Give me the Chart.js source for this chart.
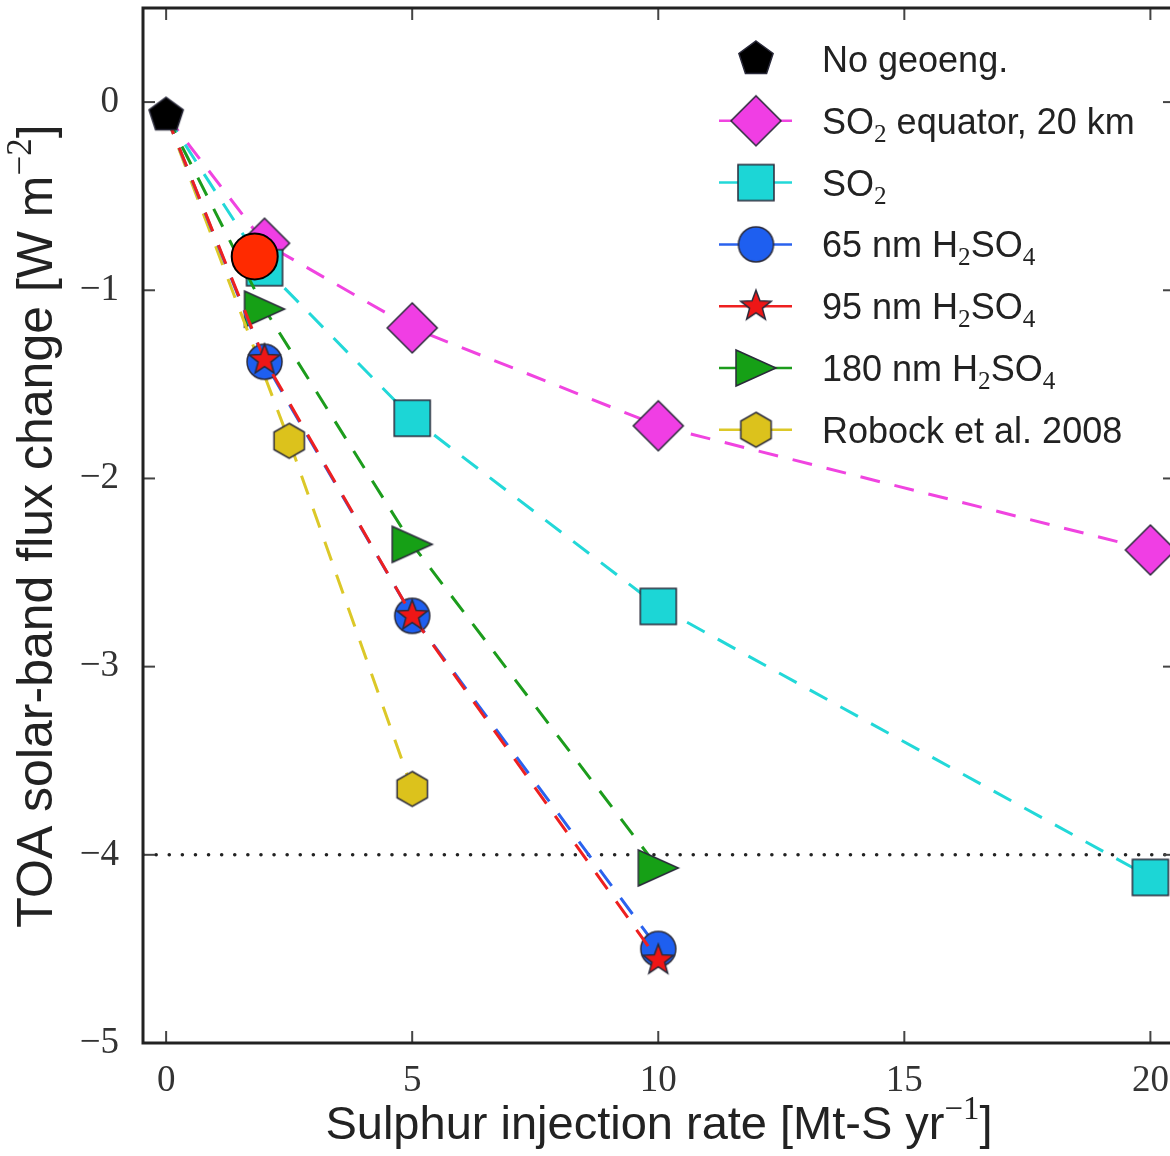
<!DOCTYPE html>
<html>
<head>
<meta charset="utf-8">
<script src="https://cdn.jsdelivr.net/npm/chart.js@4.4.1/dist/chart.umd.min.js"></script>
<style>
  html, body { margin: 0; padding: 0; background: #fff; overflow: hidden; }
  #wrap { width: 1175px; height: 1156px; }
</style>
</head>
<body>
<div id="wrap"><canvas id="chart"></canvas></div>
<script>
// --- Data ---
const xTicks = [0, 5, 10, 15, 20];
const yTicks = [0, -1, -2, -3, -4, -5];
const xMin = -0.47, xMax = 20.5;
const yMin = -5, yMax = 0.5;

const noGeoX = [0];
const noGeoY = [-0.07];
const so2EqX = [0, 2, 5, 10, 20];
const so2EqY = [-0.07, -0.75, -1.2, -1.72, -2.38];
const so2X = [0, 2, 5, 10, 20];
const so2Y = [-0.07, -0.88, -1.68, -2.68, -4.12];
const h65X = [0, 2, 5, 10];
const h65Y = [-0.07, -1.38, -2.73, -4.5];
const h95X = [0, 2, 5, 10];
const h95Y = [-0.07, -1.37, -2.73, -4.56];
const h180X = [0, 2, 5, 10];
const h180Y = [-0.07, -1.1, -2.35, -4.07];
const robockX = [0, 2.5, 5];
const robockY = [-0.07, -1.8, -3.65];
const targetLineY = -4;
const markX = [1.8];
const markY = [-0.82];

const xTitle = 'Sulphur injection rate [Mt-S yr⁻¹]';
const yTitle = 'TOA solar-band flux change [W m⁻²]';

const SANS = '"Liberation Sans", Arial, sans-serif';
const SERIF = '"Liberation Serif", "DejaVu Serif", serif';

// --- Marker images ---
function makeMarker(shape, fill, r) {
  const s = Math.ceil(r * 2 + 6);
  const c = document.createElement('canvas');
  c.width = c.height = s;
  const g = c.getContext('2d');
  g.translate(s / 2, s / 2);
  g.beginPath();
  const poly = (n, rad, rot) => {
    for (let i = 0; i < n; i++) {
      const a = rot + i * 2 * Math.PI / n;
      const px = rad * Math.cos(a), py = rad * Math.sin(a);
      if (i) g.lineTo(px, py); else g.moveTo(px, py);
    }
    g.closePath();
  };
  switch (shape) {
    case 'pentagon': poly(5, r, -Math.PI / 2); break;
    case 'diamond': poly(4, r, -Math.PI / 2); break;
    case 'square': g.rect(-r, -r, 2 * r, 2 * r); break;
    case 'circle': g.arc(0, 0, r, 0, 2 * Math.PI); break;
    case 'hexagon': poly(6, r, -Math.PI / 2); break;
    case 'triangle':
      g.moveTo(-r, -r * 0.9); g.lineTo(r, 0); g.lineTo(-r, r * 0.9); g.closePath();
      break;
    case 'star':
      for (let i = 0; i < 10; i++) {
        const a = -Math.PI / 2 + i * Math.PI / 5;
        const rad = i % 2 ? r * 0.42 : r;
        if (i) g.lineTo(rad * Math.cos(a), rad * Math.sin(a)); else g.moveTo(rad * Math.cos(a), rad * Math.sin(a));
      }
      g.closePath();
      break;
  }
  g.fillStyle = fill;
  g.fill();
  g.lineWidth = 1.5;
  g.strokeStyle = '#2a2a3a';
  g.stroke();
  return c;
}

const mkPent = makeMarker('pentagon', '#000000', 18);
const mkDiam = makeMarker('diamond', '#f03ee4', 25);
const mkSq = makeMarker('square', '#1cd6d6', 18);
const mkCirc = makeMarker('circle', '#1e5ff0', 17.5);
const mkStar = makeMarker('star', '#ee1616', 16);
const mkTri = makeMarker('triangle', '#16a016', 20);
const mkHex = makeMarker('hexagon', '#dcc21c', 17.5);

function pts(xs, ys) {
  return xs.map((x, i) => ({ x: x, y: ys[i] }));
}

function series(label, xs, ys, color, img, order) {
  return {
    label: label,
    data: pts(xs, ys),
    showLine: true,
    borderColor: color,
    backgroundColor: color,
    borderWidth: 3,
    borderDash: [20, 15],
    pointStyle: img,
    pointRadius: c => (c.dataIndex === 0 ? 0 : 15),
    order: order,
    legendImg: img
  };
}

const datasets = [
  {
    label: '',
    data: pts(markX, markY),
    showLine: false,
    pointStyle: 'circle',
    pointRadius: 23,
    backgroundColor: '#ff2a00',
    borderColor: '#000',
    borderWidth: 2,
    order: 0
  },
  {
    label: 'No geoeng.',
    data: pts(noGeoX, noGeoY),
    showLine: false,
    pointStyle: mkPent,
    pointRadius: 15,
    order: 1,
    legendImg: mkPent
  },
  series('SO₂ equator, 20 km', so2EqX, so2EqY, '#f044e0', mkDiam, 7),
  series('SO₂', so2X, so2Y, '#22d8d8', mkSq, 6),
  series('65 nm H₂SO₄', h65X, h65Y, '#2a62ee', mkCirc, 3),
  series('95 nm H₂SO₄', h95X, h95Y, '#ee2020', mkStar, 2),
  series('180 nm H₂SO₄', h180X, h180Y, '#1c9c1c', mkTri, 5),
  series('Robock et al. 2008', robockX, robockY, '#dcc828', mkHex, 4),
  {
    label: '',
    data: [{ x: xMin, y: targetLineY }, { x: xMax, y: targetLineY }],
    showLine: true,
    borderColor: '#222',
    borderWidth: 3.5,
    borderDash: [0.1, 13],
    borderCapStyle: 'round',
    pointRadius: 0,
    order: 20
  }
];

// --- Rich text (sub/superscripts) ---
const SUBS = { '₀': '0', '₁': '1', '₂': '2', '₃': '3', '₄': '4' };
const SUPS = { '⁻': '−', '¹': '1', '²': '2' };

function richRuns(str) {
  const runs = [];
  for (const ch of str) {
    let kind = 'n', t = ch;
    if (SUBS[ch]) { kind = 'sub'; t = SUBS[ch]; }
    else if (SUPS[ch]) { kind = 'sup'; t = SUPS[ch]; }
    const last = runs[runs.length - 1];
    if (last && last.kind === kind) last.t += t;
    else runs.push({ kind: kind, t: t });
  }
  return runs;
}

function drawRich(g, str, x, y, size, align) {
  const runs = richRuns(str);
  let w = 0;
  runs.forEach(r => {
    r.font = r.kind === 'n' ? size + 'px ' + SANS : (size * 0.7) + 'px ' + SERIF;
    g.font = r.font;
    r.w = g.measureText(r.t).width;
    w += r.w;
  });
  let cx = align === 'center' ? x - w / 2 : x;
  g.textAlign = 'left';
  g.textBaseline = 'alphabetic';
  runs.forEach(r => {
    g.font = r.font;
    const dy = r.kind === 'sub' ? size * 0.22 : r.kind === 'sup' ? -size * 0.42 : 0;
    g.fillText(r.t, cx, y + dy);
    cx += r.w;
  });
}

// --- Frame, inward ticks, legend, axis titles ---
const decorPlugin = {
  id: 'decor',
  afterDatasetsDraw(chart) {
    const { ctx, chartArea: a, scales } = chart;
    const line = (x1, y1, x2, y2) => {
      ctx.beginPath(); ctx.moveTo(x1, y1); ctx.lineTo(x2, y2); ctx.stroke();
    };
    ctx.save();
    ctx.strokeStyle = '#444';
    ctx.lineWidth = 2;
    xTicks.forEach(v => {
      const px = scales.x.getPixelForValue(v);
      line(px, a.bottom, px, a.bottom - 12);
      line(px, a.top, px, a.top + 12);
    });
    yTicks.forEach(v => {
      const py = scales.y.getPixelForValue(v);
      line(a.left, py, a.left + 12, py);
      line(a.right, py, a.right - 12, py);
    });
    ctx.strokeStyle = '#222';
    ctx.lineWidth = 3;
    ctx.strokeRect(a.left, a.top, a.right - a.left, a.bottom - a.top);

    // legend
    let rowY = 59;
    ctx.fillStyle = '#222';
    chart.data.datasets.forEach(ds => {
      if (!ds.legendImg) return;
      if (ds.showLine) {
        ctx.strokeStyle = ds.borderColor;
        ctx.lineWidth = 2.5;
        ctx.setLineDash([]);
        line(719, rowY, 792, rowY);
      }
      const img = ds.legendImg;
      ctx.drawImage(img, 756 - img.width / 2, rowY - img.height / 2);
      ctx.fillStyle = '#222';
      drawRich(ctx, ds.label, 822, rowY + 13, 36, 'left');
      rowY += 61.8;
    });

    // axis titles
    drawRich(ctx, xTitle, (a.left + a.right) / 2, 1139, 47, 'center');
    ctx.translate(52, 526);
    ctx.rotate(-Math.PI / 2);
    drawRich(ctx, yTitle, 0, 0, 50, 'center');
    ctx.restore();
  }
};

const tickFmt = v => String(v).replace('-', '−');

new Chart(document.getElementById('chart'), {
  type: 'scatter',
  data: { datasets: datasets },
  plugins: [decorPlugin],
  options: {
    responsive: true,
    maintainAspectRatio: false,
    animation: false,
    events: [],
    layout: { autoPadding: false, padding: { top: 8, right: 0, left: 0, bottom: 0 } },
    plugins: { legend: { display: false }, tooltip: { enabled: false } },
    scales: {
      x: {
        type: 'linear',
        min: xMin,
        max: xMax,
        afterBuildTicks: s => { s.ticks = xTicks.map(v => ({ value: v })); },
        afterFit: s => { s.height = 113; s.paddingLeft = 0; s.paddingRight = 0; },
        grid: { display: false },
        border: { display: false },
        ticks: {
          callback: tickFmt,
          color: '#333',
          padding: 8,
          maxRotation: 0,
          font: { family: SERIF, size: 37 }
        }
      },
      y: {
        type: 'linear',
        min: yMin,
        max: yMax,
        afterBuildTicks: s => { s.ticks = yTicks.map(v => ({ value: v })); },
        afterFit: s => { s.width = 143; s.paddingTop = 0; s.paddingBottom = 0; },
        grid: { display: false },
        border: { display: false },
        ticks: {
          callback: tickFmt,
          color: '#333',
          padding: 16,
          font: { family: SERIF, size: 37 }
        }
      }
    }
  }
});
</script>
</body>
</html>
